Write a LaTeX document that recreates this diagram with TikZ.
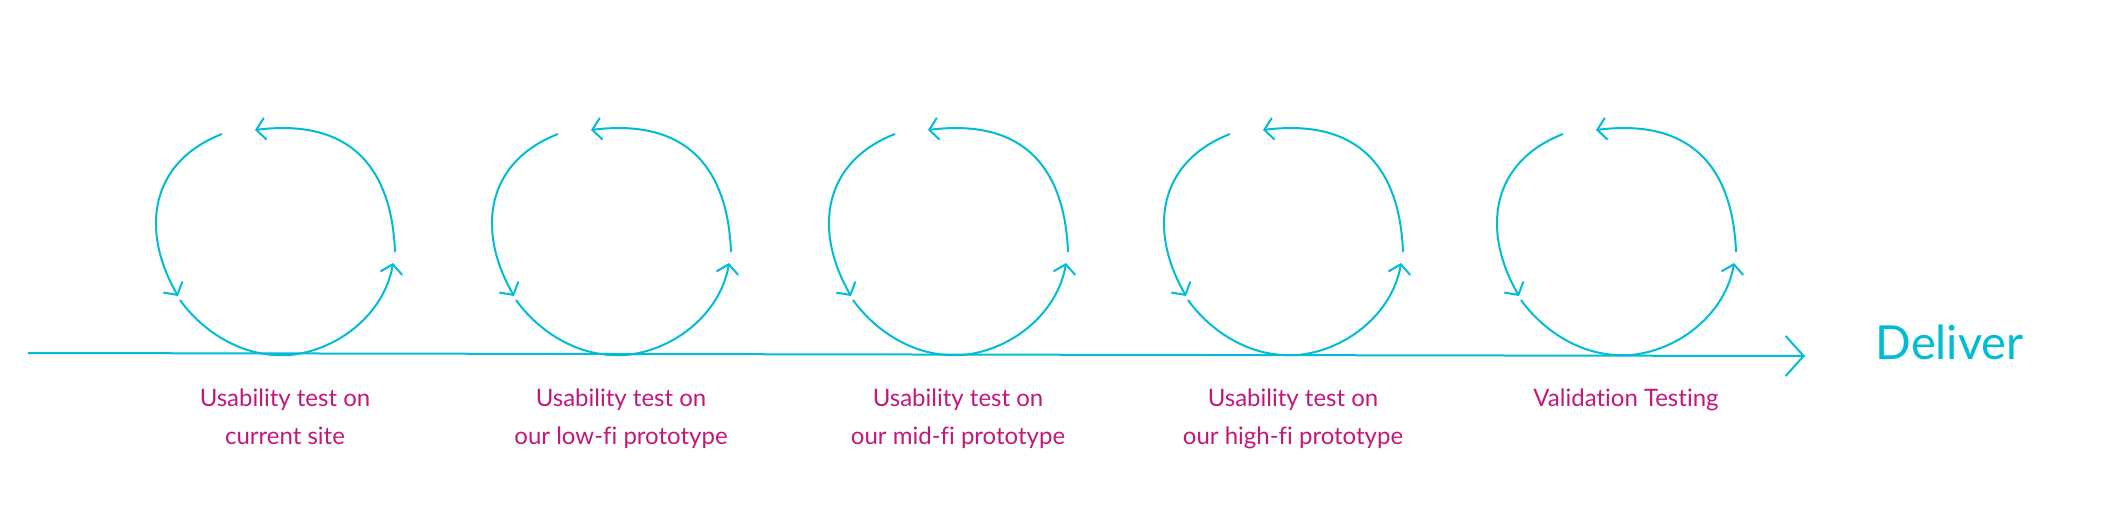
\documentclass[tikz,border=0pt]{standalone}
\usepackage{fontspec}
\setmainfont[Ligatures=NoCommon]{Lato}
\usetikzlibrary{arrows.meta}
\definecolor{cy}{HTML}{00BCD4}
\definecolor{mg}{HTML}{C2187A}
\tikzset{ln/.style={draw=cy,line width=2pt},
 tip/.style={-{Straight Barb[length=9pt,width=22pt,line width=2pt]}},
 lbl/.style={text=mg,font=\fontsize{24}{38}\selectfont,align=center}}
\begin{document}
\begin{tikzpicture}[x=1pt,y=-1pt]
\useasboundingbox (0,0) rectangle (2127,528);
\coordinate (s) at (28,353);
\coordinate (e) at (1805,356);
\draw[ln,-{Straight Barb[length=18pt,width=40pt,line width=2pt]}] (s) -- (e);
\node[anchor=west,text=cy,font=\fontsize{47}{55}\selectfont] (d) at (1872,342) {Deliver};
\foreach \dx/\t [count=\i] in {0/{Usability test on\\current site},336/{Usability test on\\our low-fi prototype},673/{Usability test on\\our mid-fi prototype},1008/{Usability test on\\our high-fi prototype},1341/{Validation Testing\\\strut}}{
 \begin{scope}[xshift=\dx]
 \draw[ln,tip] (395,252) .. controls (393,200) and (375,115) .. (255,130);
 \draw[ln,tip] (222,134) .. controls (150,162) and (140,230) .. (178,296);
 \draw[ln] (180,300) .. controls (200,328) and (235,353) .. (275,355) -- (290,355);
 \draw[ln,tip] (290,355) .. controls (340,350) and (385,312) .. (393,263);
 \node[lbl,anchor=north] (l\i) at (285,385) {\t};
 \end{scope}}
\end{tikzpicture}
\end{document}
